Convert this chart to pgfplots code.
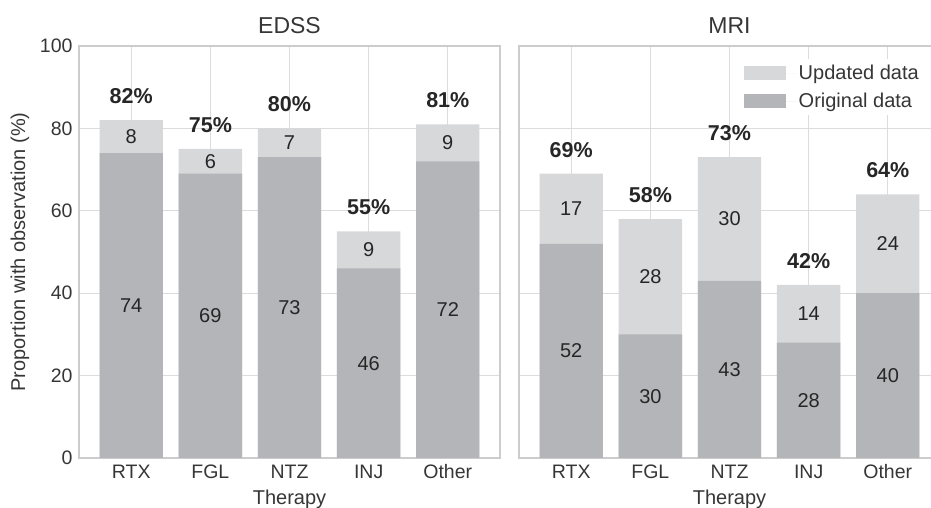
\documentclass[border=0pt]{standalone}
\usepackage{pgfplots}
\usepackage{pgfplotstable}
\pgfplotsset{compat=1.18}
\usepackage{fontspec}
\setmainfont{Liberation Sans}

\definecolor{orig}{HTML}{B4B5B9}
\definecolor{upd}{HTML}{D7D8DA}
\definecolor{txt}{HTML}{262626}
\definecolor{ticktxt}{HTML}{363636}
\definecolor{framec}{HTML}{CCCCCC}
\definecolor{gridc}{HTML}{DCDCDC}

% x: category index, orig: original data, upd: updated data, total: sum
\pgfplotstableread{
x orig upd total
0 74 8 82
1 69 6 75
2 73 7 80
3 46 9 55
4 72 9 81
}\edss
\pgfplotstableread{
x orig upd total
0 52 17 69
1 30 28 58
2 43 30 73
3 28 14 42
4 40 24 64
}\mri

\pgfplotsset{
  facet/.style={
    scale only axis, width=421pt, height=412pt,
    xmin=-0.66, xmax=4.66, ymin=0, ymax=100,
    xtick={0,...,4}, xticklabels={RTX,FGL,NTZ,INJ,Other},
    ytick={0,20,...,100},
    major tick length=0pt,
    xmajorgrids, ymajorgrids,
    grid style={draw=gridc, line width=1.1pt},
    axis line style={draw=framec, line width=1.2pt},
    bar width=0.8,
    tick label style={font=\fontsize{19.5}{23}\selectfont, text=ticktxt},
    xticklabel style={anchor=base, yshift=-21pt},
    yticklabel style={xshift=-3pt},
    /pgf/number format/assume math mode=true,
    title style={font=\fontsize{23}{27}\selectfont, text=ticktxt,
      at={(rel axis cs:0.5,1)}, anchor=base, yshift=6pt},
    label style={font=\fontsize{20}{24}\selectfont, text=ticktxt},
    xlabel={Therapy},
    xlabel style={at={(rel axis cs:0.5,0)}, anchor=base, yshift=-47pt},
  },
  lab/.style={only marks, mark=none, forget plot,
    point meta=explicit symbolic,
    nodes near coords={\pgfplotspointmeta},
    every node near coord/.append style={anchor=center, text=txt,
      font=\fontsize{20}{24}\selectfont}},
  tot/.style={only marks, mark=none, forget plot,
    point meta=explicit symbolic,
    nodes near coords={\pgfplotspointmeta\%},
    every node near coord/.append style={anchor=center, text=txt, yshift=24pt,
      font=\fontsize{21.5}{25}\selectfont\bfseries}},
}

\begin{document}
\begin{tikzpicture}
\path[use as bounding box] (0,0) rectangle (931pt,508pt);
\clip (0,0) rectangle (931pt,508pt);

\begin{axis}[facet, at={(79pt,50pt)}, anchor=south west,
  title={EDSS},
  ylabel={Proportion with observation (\%)},
  ylabel style={at={(rel axis cs:0,0.5)}, anchor=center, yshift=59pt},
]
\addplot[ybar, bar shift=0pt, fill=upd, draw=none] table[x=x, y=total] {\edss};
\addplot[ybar, bar shift=0pt, fill=orig, draw=none] table[x=x, y=orig] {\edss};
\addplot[lab] table[x=x, y expr=\thisrow{orig}/2, meta=orig] {\edss};
\addplot[lab] table[x=x, y expr=\thisrow{orig}+\thisrow{upd}/2, meta=upd] {\edss};
\addplot[tot] table[x=x, y=total, meta=total] {\edss};
\end{axis}

\begin{axis}[facet, at={(519pt,50pt)}, anchor=south west,
  title={MRI},
  yticklabels={},
  legend image code/.code={\fill[#1] (0pt,-7pt) rectangle (42pt,7pt);
    \path (0pt,0pt) -- (53pt,0pt);},
  legend style={draw=none, fill=white, at={(rel axis cs:1,1)}, anchor=north east,
    xshift=-15pt, yshift=-13pt, font=\fontsize{20}{24}\selectfont,
    text=ticktxt, row sep=8pt, inner sep=4pt, nodes={inner sep=2pt}},
  legend cell align=left,
]
\addplot[ybar, bar shift=0pt, fill=upd, draw=none] table[x=x, y=total] {\mri};
\addlegendentry{Updated data}
\addplot[ybar, bar shift=0pt, fill=orig, draw=none] table[x=x, y=orig] {\mri};
\addlegendentry{Original data}
\addplot[lab] table[x=x, y expr=\thisrow{orig}/2, meta=orig] {\mri};
\addplot[lab] table[x=x, y expr=\thisrow{orig}+\thisrow{upd}/2, meta=upd] {\mri};
\addplot[tot] table[x=x, y=total, meta=total] {\mri};
\end{axis}
\end{tikzpicture}
\end{document}
